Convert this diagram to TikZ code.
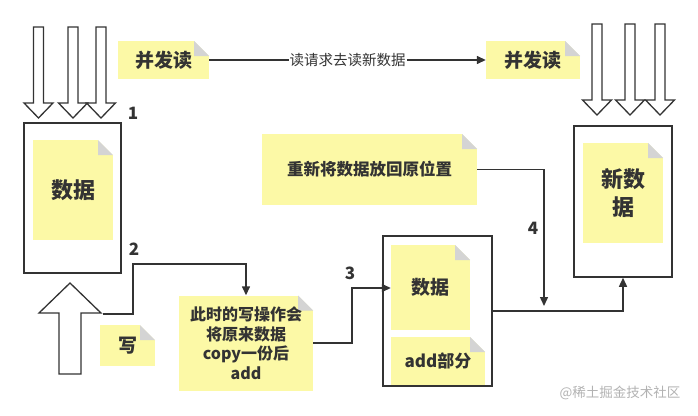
\documentclass[tikz,border=0pt]{standalone}
\usepackage{fontspec}
\setmainfont{Noto Sans CJK SC}
\usetikzlibrary{arrows.meta}
\definecolor{notey}{HTML}{FCF9A6}
\definecolor{foldg}{HTML}{D4D4D4}
\definecolor{ink}{HTML}{333333}
\newcommand\hollowdown[2]{%
  \draw[hollow] ({#1-5},#2) -- ({#1-5},{#2+76}) -- ({#1-14.5},{#2+76}) -- (#1,{#2+91})
    -- ({#1+14.5},{#2+76}) -- ({#1+5},{#2+76}) -- ({#1+5},#2) -- cycle;}
\tikzset{
  note/.style={rectangle, fill=notey, inner sep=0pt, text=ink, align=center,
    font=\bfseries,
    path picture={
      \fill[white] ([xshift=-15pt]path picture bounding box.north east) -- (path picture bounding box.north east) -- ([yshift=-15pt]path picture bounding box.north east) -- cycle;
      \fill[foldg] ([xshift=-15pt]path picture bounding box.north east) -- ([xshift=-15pt,yshift=-15pt]path picture bounding box.north east) -- ([yshift=-15pt]path picture bounding box.north east) -- cycle;
    }},
  frame/.style={rectangle, draw=ink, line width=1.5pt, fill=white, inner sep=0pt},
  hollow/.style={draw=ink, line width=1.3pt, fill=white, line join=miter},
  conn/.style={draw=ink, line width=1.4pt, -{Triangle[length=9pt,width=8pt]}},
  num/.style={text=ink, font=\bfseries\fontsize{17}{17}\selectfont, inner sep=0pt},
}
\begin{document}
\begin{tikzpicture}[x=1pt,y=-1pt]
\useasboundingbox (0,0) rectangle (698,415);
% hollow down arrows (left)
\hollowdown{38.5}{27}
\hollowdown{73}{27}
\hollowdown{101}{27}
% hollow down arrows (right)
\hollowdown{597}{24}
\hollowdown{630}{24}
\hollowdown{660}{24}
% hollow up arrow
\draw[hollow] (59,374) -- (59,313) -- (39,313) -- (70,283) -- (101,313) -- (81,313) -- (81,374) -- cycle;
\coordinate (w2) at (103,314);
% frames
\node[frame, minimum width=97pt, minimum height=150pt] (lbox) at (72.5,198) {};
\node[frame, minimum width=98pt, minimum height=151pt] (rbox) at (623,201.5) {};
\node[frame, minimum width=109pt, minimum height=150pt] (mbox) at (437.5,311) {};
% notes
\node[note, minimum width=80pt, minimum height=100pt, font=\bfseries\fontsize{22}{22}\selectfont] (lnote) at (73,190) {数据};
\node[note, minimum width=80pt, minimum height=100pt, font=\bfseries\fontsize{22}{28}\selectfont] (rnote) at (623,193) {新数\\据};
\node[note, minimum width=79pt, minimum height=85pt, font=\bfseries\fontsize{19}{19}\selectfont] (mnote1) at (430.5,287.5) {数据};
\node[note, minimum width=94pt, minimum height=48pt, font=\bfseries\fontsize{17}{17}\selectfont] (mnote2) at (438,361) {add部分};
\node[note, minimum width=215pt, minimum height=71pt, font=\bfseries\fontsize{16.5}{16.5}\selectfont] (reput) at (369.5,169.5) {重新将数据放回原位置};
\node[note, minimum width=134pt, minimum height=95pt, font=\bfseries\fontsize{16}{19.5}\selectfont] (copy) at (246,343) {此时的写操作会\\将原来数据\\copy一份后\\add};
\node[note, minimum width=55pt, minimum height=41pt, font=\bfseries\fontsize{19}{19}\selectfont] (write) at (127.5,345.5) {写};
\node[note, minimum width=91pt, minimum height=38pt, font=\bfseries\fontsize{19}{19}\selectfont] (lread) at (163.5,60) {并发读};
\node[note, minimum width=94pt, minimum height=38pt, font=\bfseries\fontsize{19}{19}\selectfont] (rread) at (533,60) {并发读};
% connectors
\draw[conn] (lread.east) -- node[fill=white, text=ink, inner sep=1pt, font=\fontsize{14.5}{14.5}\selectfont] {读请求去读新数据} (rread.west);
\coordinate (c2) at (133,264);
\draw[conn] (w2) -| (c2) -| (copy.north);
\coordinate (c3) at (352,288);
\draw[conn] (copy.east) -| (c3) -- (mnote1.west |- c3);
\coordinate (c4) at (544,306);
\draw[conn] (reput.east) -| (c4);
\draw[conn] (mbox.east) -| (rbox.south);
% numbers
\node[num] (n1) at (133,113) {1};
\node[num] (n2) at (134,249) {2};
\node[num] (n3) at (350,273) {3};
\node[num] (n4) at (533,228) {4};
% watermark
\node[text=gray!60, font=\fontsize{13.5}{13.5}\selectfont, inner sep=0pt] (wm) at (620,393) {@稀土掘金技术社区};
\end{tikzpicture}
\end{document}
